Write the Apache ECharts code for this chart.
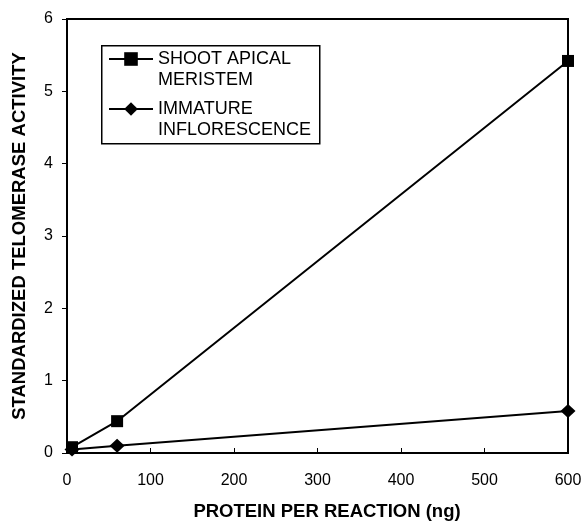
<!DOCTYPE html>
<html>
<head>
<meta charset="utf-8">
<script src="https://cdn.jsdelivr.net/npm/echarts@6/dist/echarts.min.js"></script>
<style>
  html, body { margin: 0; padding: 0; background: #fff; }
  #chart { width: 585px; height: 522px; }
</style>
</head>
<body>
<div id="chart"></div>
<script>
const protein = [6, 60, 600];
const shootApical = [0.08, 0.44, 5.42];
const inflorescence = [0.05, 0.10, 0.58];
const seriesNames = ['SHOOT APICAL\nMERISTEM', 'IMMATURE\nINFLORESCENCE'];

const chart = echarts.init(document.getElementById('chart'));
const font = 'Liberation Sans, Arial, sans-serif';

const pairs = (xs, ys) => xs.map((x, i) => [x, ys[i]]);

chart.setOption({
  animation: false,
  backgroundColor: '#fff',
  grid: {
    left: 67, right: 17, top: 19, bottom: 69,
    outerBoundsMode: 'none', containLabel: false,
    show: true, borderColor: '#000', borderWidth: 2, backgroundColor: 'transparent'
  },
  // box around the legend (drawn separately so the icon can sit on the first text line)
  graphic: [{
    type: 'rect', left: 101, top: 45,
    shape: { width: 218, height: 98 },
    style: { fill: 'transparent', stroke: '#000', lineWidth: 1.5 }
  }],
  legend: {
    left: 108, top: 27.5,
    orient: 'vertical',
    itemWidth: 44, itemHeight: 17,
    itemGap: -13,
    padding: 0,
    textStyle: { fontFamily: font, fontSize: 18, color: '#000', lineHeight: 21 },
    formatter: name => '\n' + name,
    data: seriesNames
  },
  xAxis: {
    type: 'value', min: 0, max: 600, interval: 100,
    name: 'PROTEIN PER REACTION (ng)', nameLocation: 'middle', nameGap: 49,
    nameTextStyle: { fontFamily: font, fontSize: 18.5, fontWeight: 'bold', color: '#000', padding: [0, 0, 0, 19] },
    axisLine: { lineStyle: { color: '#000', width: 2 } },
    axisTick: { inside: true, length: 5, lineStyle: { color: '#000' } },
    axisLabel: { fontFamily: font, fontSize: 16, color: '#000', margin: 20 },
    splitLine: { show: false }
  },
  yAxis: {
    type: 'value', min: 0, max: 6, interval: 1,
    name: 'STANDARDIZED TELOMERASE ACTIVITY', nameLocation: 'middle', nameGap: 38,
    nameTextStyle: { fontFamily: font, fontSize: 18.5, fontWeight: 'bold', color: '#000' },
    axisLine: { lineStyle: { color: '#000', width: 2 } },
    axisTick: { length: 5, lineStyle: { color: '#000' } },
    axisLabel: { fontFamily: font, fontSize: 16, color: '#000', margin: 14 },
    splitLine: { show: false }
  },
  series: [
    {
      name: seriesNames[0], type: 'line',
      data: pairs(protein, shootApical),
      symbol: 'rect', symbolSize: 12,
      lineStyle: { color: '#000', width: 2 },
      itemStyle: { color: '#000' }
    },
    {
      name: seriesNames[1], type: 'line',
      data: pairs(protein, inflorescence),
      symbol: 'diamond', symbolSize: [15, 14],
      lineStyle: { color: '#000', width: 2 },
      itemStyle: { color: '#000' }
    }
  ]
});
</script>
</body>
</html>
